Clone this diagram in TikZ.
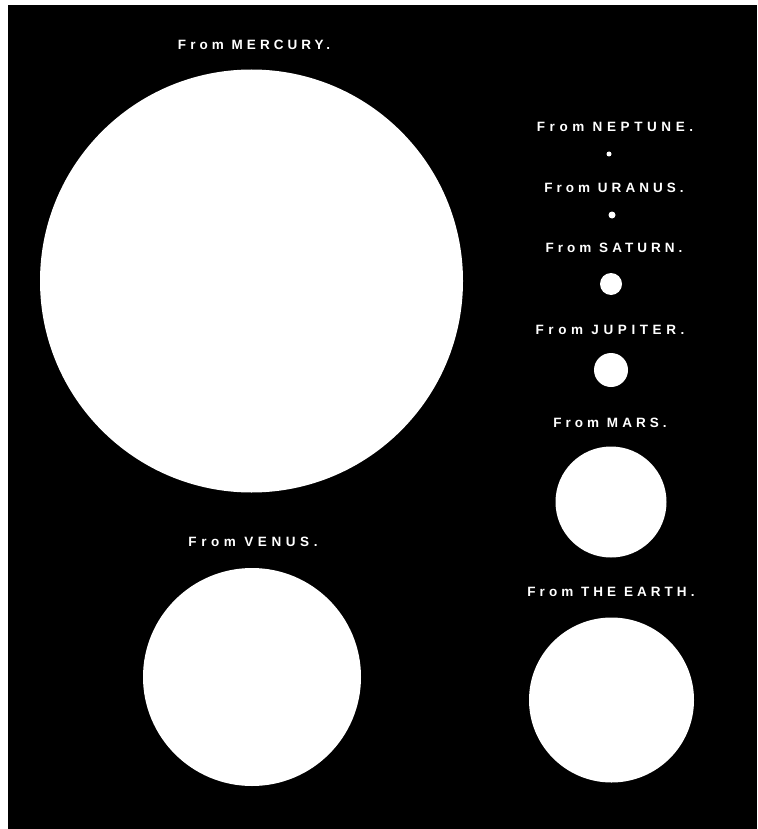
\documentclass[tikz,border=0pt]{standalone}
\usepackage{fontspec}
\setmainfont{Liberation Sans}[LetterSpace=30]
\usetikzlibrary{positioning}

\begin{document}
\begin{tikzpicture}[
    x=1pt, y=-1pt,
    every node/.style={align=center},
    caption/.style={text=white, inner sep=0pt, font=\fontsize{13.5}{15}\selectfont\bfseries},
    widecap/.style={caption, font=\fontsize{13.5}{15}\selectfont\bfseries\addfontfeature{LetterSpace=34}},
    planet/.style={circle, fill=white, draw=none, inner sep=0pt}
]

% Background
\path[use as bounding box] (0,0) rectangle (757,829);
\fill[black] (8,5) rectangle (757,829);

% Suns seen from each planet
\node[planet, minimum size=423pt] (mercury) at (251.5,281) {};
\node[planet, minimum size=218pt] (venus) at (252,677) {};
\node[planet, minimum size=5pt] (neptune) at (609,154) {};
\node[planet, minimum size=7pt] (uranus) at (612,215) {};
\node[planet, minimum size=22pt] (saturn) at (611,284) {};
\node[planet, minimum size=34pt] (jupiter) at (611,370) {};
\node[planet, minimum size=111pt] (mars) at (611,502) {};
\node[planet, minimum size=165pt] (earth) at (611.5,700) {};

% Captions
\node[caption] (mercurytxt) at (254,45) {From MERCURY.};
\node[widecap] (venustxt) at (253,542) {From VENUS.};
\node[widecap] (neptunetxt) at (615,127) {From NEPTUNE.};
\node[caption] (uranustxt) at (614,188) {From URANUS.};
\node[caption] (saturntxt) at (614,248) {From SATURN.};
\node[widecap] (jupitertxt) at (610,330) {From JUPITER.};
\node[caption] (marstxt) at (610,423) {From MARS.};
\node[caption] (earthtxt) at (611,592) {From THE EARTH.};

\end{tikzpicture}
\end{document}
